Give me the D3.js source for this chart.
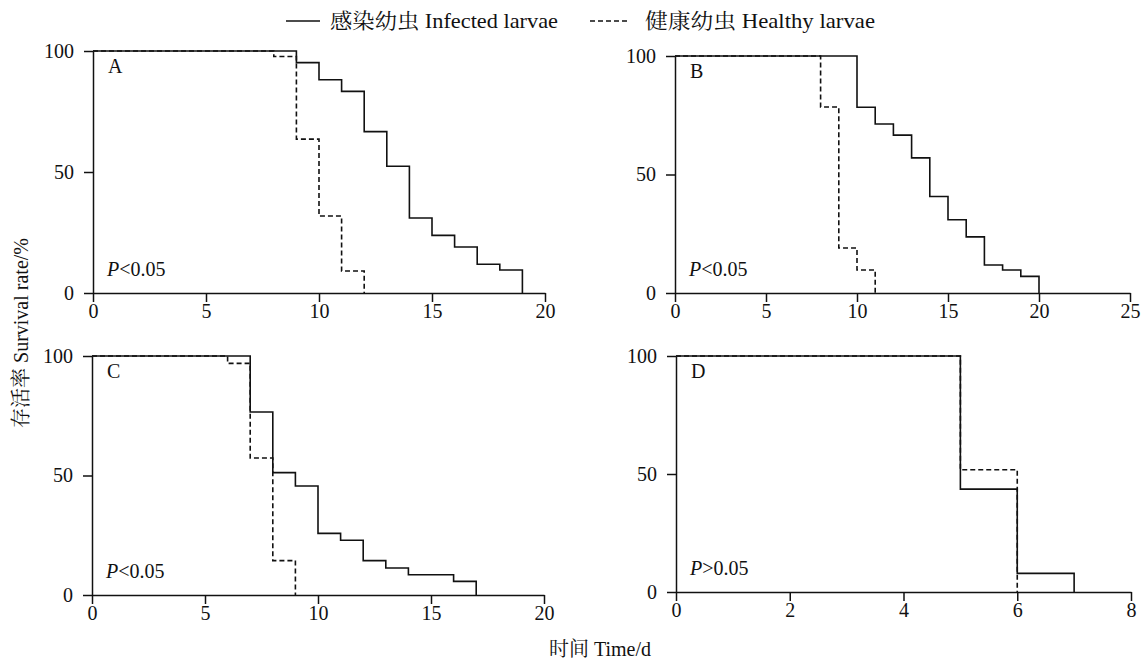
<!DOCTYPE html>
<html><head><meta charset="utf-8">
<script src="https://cdn.jsdelivr.net/npm/d3@7"></script>
<style>
body{margin:0;background:#fff}
text{font-family:"Liberation Serif","Times New Roman","Noto Serif CJK SC","Noto Sans CJK SC",serif;fill:#111}
</style>
</head><body>
<svg id="chart" width="1144" height="660"></svg>
<script>
// ---- Data ----
const panelNames = ["A", "B", "C", "D"];
const pValueText = ["<0.05", "<0.05", "<0.05", ">0.05"];
const yTickValues = [0, 50, 100];
const xTicksA = [0, 5, 10, 15, 20];
const xTicksB = [0, 5, 10, 15, 20, 25];
const xTicksC = [0, 5, 10, 15, 20];
const xTicksD = [0, 2, 4, 6, 8];

// Panel A
const timeA_infected = [0, 9, 10, 11, 12, 13, 14, 15, 16, 17, 18, 19];
const survA_infected = [100, 95.2, 88.1, 83.3, 66.7, 52.4, 31.0, 23.8, 19.0, 11.9, 9.5, 0];
const timeA_healthy = [0, 8, 9, 10, 11, 12];
const survA_healthy = [100, 97.7, 63.6, 31.8, 9.1, 0];
// Panel B
const timeB_infected = [0, 10, 11, 12, 13, 14, 15, 16, 17, 18, 19, 20];
const survB_infected = [100, 78.4, 71.3, 66.6, 57.0, 40.7, 30.9, 23.7, 11.8, 9.7, 7.0, 0];
const timeB_healthy = [0, 8, 9, 10, 11];
const survB_healthy = [100, 78.5, 19.0, 9.7, 0];
// Panel C
const timeC_infected = [0, 7, 8, 9, 10, 11, 12, 13, 14, 16, 17];
const survC_infected = [100, 76.6, 51.2, 45.6, 25.8, 22.9, 14.4, 11.3, 8.5, 5.7, 0];
const timeC_healthy = [0, 6, 7, 8, 9];
const survC_healthy = [100, 96.9, 57.3, 14.4, 0];
// Panel D
const timeD_infected = [0, 5, 6, 7];
const survD_infected = [100, 43.6, 7.9, 0];
const timeD_healthy = [0, 5, 6];
const survD_healthy = [100, 51.8, 0];

const legendLabels = ["感染幼虫 Infected larvae", "健康幼虫 Healthy larvae"];
const yTitle = "存活率 Survival rate/%";
const xTitle = "时间 Time/d";

// ---- Layout ----
const layout = [
  {x0: 93, x1: 545, y0: 293, y1: 51},
  {x0: 675, x1: 1130, y0: 293, y1: 56},
  {x0: 92, x1: 544, y0: 595, y1: 356},
  {x0: 676, x1: 1131, y0: 592, y1: 356}
];
const xTickSets = [xTicksA, xTicksB, xTicksC, xTicksD];
const series = [
  {inf: [timeA_infected, survA_infected], hea: [timeA_healthy, survA_healthy]},
  {inf: [timeB_infected, survB_infected], hea: [timeB_healthy, survB_healthy]},
  {inf: [timeC_infected, survC_infected], hea: [timeC_healthy, survC_healthy]},
  {inf: [timeD_infected, survD_infected], hea: [timeD_healthy, survD_healthy]}
];

const svg = d3.select("#chart");
const INK = "#111";
const FS = 20;

panelNames.forEach((name, i) => {
  const L = layout[i];
  const ticks = xTickSets[i];
  const x = d3.scaleLinear().domain([0, d3.max(ticks)]).range([L.x0, L.x1]);
  const y = d3.scaleLinear().domain([0, 100]).range([L.y0, L.y1]);
  const g = svg.append("g");

  const xa = g.append("g").attr("transform", `translate(0,${L.y0})`)
    .call(d3.axisBottom(x).tickValues(ticks).tickSize(9).tickPadding(2).tickSizeOuter(0));
  const ya = g.append("g").attr("transform", `translate(${L.x0},0)`)
    .call(d3.axisLeft(y).tickValues(yTickValues).tickSize(9).tickPadding(10).tickSizeOuter(0));
  [xa, ya].forEach(a => {
    a.selectAll("path,line").attr("stroke", INK).attr("stroke-width", 1.5);
    a.selectAll("text").attr("font-size", FS).attr("fill", INK);
  });

  const line = d3.line().x(d => x(d[0])).y(d => y(d[1])).curve(d3.curveStepAfter);
  const toPts = s => s[0].map((t, k) => [t, s[1][k]]);

  g.append("path").datum(toPts(series[i].hea)).attr("d", line)
    .attr("fill", "none").attr("stroke", INK).attr("stroke-width", 1.6)
    .attr("stroke-dasharray", "5,3");
  g.append("path").datum(toPts(series[i].inf)).attr("d", line)
    .attr("fill", "none").attr("stroke", INK).attr("stroke-width", 1.6);

  g.append("text").attr("x", L.x0 + 15).attr("y", L.y1 + 22)
    .attr("font-size", FS).text(name);
  const pt = g.append("text").attr("x", L.x0 + 14).attr("y", L.y0 - 17).attr("font-size", FS);
  pt.append("tspan").attr("font-style", "italic").text("P");
  pt.append("tspan").text(pValueText[i]);
});

// Legend
const lg = svg.append("g");
lg.append("line").attr("x1", 286).attr("x2", 320).attr("y1", 21).attr("y2", 21)
  .attr("stroke", INK).attr("stroke-width", 1.6);
lg.append("text").attr("x", 330).attr("y", 28).attr("font-size", 21)
  .attr("textLength", 228).attr("lengthAdjust", "spacingAndGlyphs").text(legendLabels[0]);
lg.append("line").attr("x1", 590).attr("x2", 630).attr("y1", 21).attr("y2", 21)
  .attr("stroke", INK).attr("stroke-width", 1.6).attr("stroke-dasharray", "5,3");
lg.append("text").attr("x", 645).attr("y", 28).attr("font-size", 21)
  .attr("textLength", 230).attr("lengthAdjust", "spacingAndGlyphs").text(legendLabels[1]);

// Axis titles
svg.append("text").attr("transform", "translate(28,333) rotate(-90)")
  .attr("text-anchor", "middle").attr("font-size", FS).text(yTitle);
svg.append("text").attr("x", 600).attr("y", 656)
  .attr("text-anchor", "middle").attr("font-size", FS).text(xTitle);
</script>
</body></html>
